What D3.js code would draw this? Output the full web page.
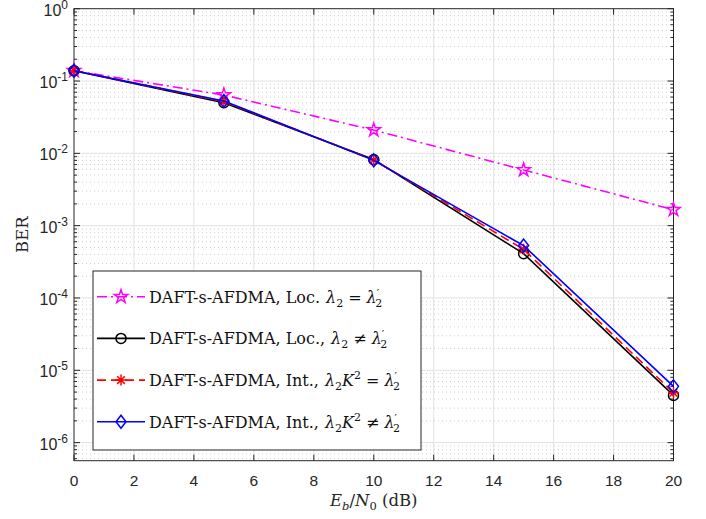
<!DOCTYPE html>
<meta charset="utf-8">
<style>
body { margin: 0; background: #fff; }
</style>
<body>
<script src="https://cdn.jsdelivr.net/npm/d3@7/dist/d3.min.js"></script>
<script>

// x values (Eb/N0 in dB)
var snr = [0, 5, 10, 15, 20];

// BER series
var berLocEq   = [0.139, 0.064, 0.021, 0.0059, 0.00166];
var berLocNeq  = [0.139, 0.050, 0.0082, 0.00041, 0.0000045];
var berIntEq   = [0.139, 0.052, 0.0081, 0.00047, 0.0000049];
var berIntNeq  = [0.139, 0.053, 0.0080, 0.00053, 0.0000060];

var xTicks = [0, 2, 4, 6, 8, 10, 12, 14, 16, 18, 20];
var yExps = [0, -1, -2, -3, -4, -5, -6];

var series = [
  {name: "Loc.", rel: "=", k2: false, data: berLocEq, color: "#ff00ff", dash: "10,4,2,4", marker: "star"},
  {name: "Loc.,", rel: "≠", k2: false, data: berLocNeq, color: "#000000", dash: null, marker: "circle"},
  {name: "Int.,", rel: "=", k2: true, data: berIntEq, color: "#ff0000", dash: "9,5", marker: "asterisk"},
  {name: "Int.,", rel: "≠", k2: true, data: berIntNeq, color: "#0000ff", dash: null, marker: "diamond"}
];

var SANS = "Liberation Sans, Arial, sans-serif";
var SERIF = "DejaVu Serif, serif";

var W = 706, H = 519;
var margin = {top: 8.7, right: 32.5, bottom: 58.3, left: 74};
var width = W - margin.left - margin.right,
    height = H - margin.top - margin.bottom;

var svg = d3.select("body").append("svg")
  .attr("width", W).attr("height", H);

var g = svg.append("g")
  .attr("transform", "translate(" + margin.left + "," + margin.top + ")");

var x = d3.scaleLinear().domain([0, 20]).range([0, width]);
var y = d3.scaleLog().domain([Math.pow(10, -6.25), 1]).range([height, 0]);

// minor grid (dotted)
var minors = [];
for (var e = -7; e < 0; e++) {
  for (var m = 2; m <= 9; m++) {
    var v = m * Math.pow(10, e);
    if (v >= y.domain()[0] && v <= 1) minors.push(v);
  }
}
g.selectAll(".minor").data(minors).enter().append("line")
  .attr("x1", 0).attr("x2", width)
  .attr("y1", d => y(d)).attr("y2", d => y(d))
  .attr("stroke", "#cfcfcf").attr("stroke-width", 1)
  .attr("stroke-dasharray", "1,3");

// major grid
g.selectAll(".gx").data(xTicks.slice(1, -1)).enter().append("line")
  .attr("x1", d => x(d)).attr("x2", d => x(d))
  .attr("y1", 0).attr("y2", height)
  .attr("stroke", "#e2e2e2").attr("stroke-width", 1);
g.selectAll(".gy").data(yExps.slice(1)).enter().append("line")
  .attr("x1", 0).attr("x2", width)
  .attr("y1", d => y(Math.pow(10, d))).attr("y2", d => y(Math.pow(10, d)))
  .attr("stroke", "#e2e2e2").attr("stroke-width", 1);

// axes box
var axCol = "#262626";
g.append("rect").attr("width", width).attr("height", height)
  .attr("fill", "none").attr("stroke", axCol).attr("stroke-width", 1);

// x ticks (inward, top and bottom)
xTicks.forEach(function(t) {
  g.append("line").attr("x1", x(t)).attr("x2", x(t)).attr("y1", height).attr("y2", height - 6)
    .attr("stroke", axCol);
  g.append("line").attr("x1", x(t)).attr("x2", x(t)).attr("y1", 0).attr("y2", 6)
    .attr("stroke", axCol);
  g.append("text").attr("x", x(t)).attr("y", height + 25)
    .attr("text-anchor", "middle").attr("font-family", SANS)
    .attr("font-size", 15.5).attr("fill", axCol)
    .text(t);
});

// y ticks
yExps.forEach(function(e) {
  var yy = y(Math.pow(10, e));
  g.append("line").attr("x1", 0).attr("x2", 6).attr("y1", yy).attr("y2", yy).attr("stroke", axCol);
  g.append("line").attr("x1", width).attr("x2", width - 6).attr("y1", yy).attr("y2", yy).attr("stroke", axCol);
  var t = g.append("text").attr("x", -6).attr("y", yy + 7)
    .attr("text-anchor", "end").attr("font-family", SANS)
    .attr("font-size", 16).attr("fill", axCol);
  t.append("tspan").text("10");
  t.append("tspan").attr("dy", -7).attr("font-size", 12).text(e);
});
minors.forEach(function(v) {
  var yy = y(v);
  g.append("line").attr("x1", 0).attr("x2", 3).attr("y1", yy).attr("y2", yy).attr("stroke", axCol);
  g.append("line").attr("x1", width).attr("x2", width - 3).attr("y1", yy).attr("y2", yy).attr("stroke", axCol);
});

// axis labels
svg.append("text")
  .attr("transform", "translate(28," + (margin.top + height / 2) + ") rotate(-90)")
  .attr("text-anchor", "middle").attr("font-family", SERIF)
  .attr("font-size", 16.5).attr("fill", axCol)
  .text("BER");

var xl = svg.append("text")
  .attr("x", margin.left + width / 2).attr("y", 506)
  .attr("text-anchor", "middle").attr("font-family", SERIF)
  .attr("font-size", 16.5).attr("fill", axCol);
xl.append("tspan").attr("font-style", "italic").text("E");
xl.append("tspan").attr("font-style", "italic").attr("font-size", 11.5).attr("dy", 4).text("b");
xl.append("tspan").attr("dy", -4).text("/");
xl.append("tspan").attr("font-style", "italic").text("N");
xl.append("tspan").attr("font-size", 11.5).attr("dy", 4).text("0");
xl.append("tspan").attr("dy", -4).text(" (dB)");

// markers
function drawMarker(sel, type, color) {
  if (type === "circle") {
    sel.append("circle").attr("r", 5).attr("fill", "none").attr("stroke", color).attr("stroke-width", 1.5);
  } else if (type === "star") {
    sel.append("path").attr("d", d3.symbol(d3.symbolStar, 55)())
      .attr("fill", "none").attr("stroke", color).attr("stroke-width", 1.5);
  } else if (type === "diamond") {
    sel.append("path").attr("d", "M0,-6.5L5,0L0,6.5L-5,0Z")
      .attr("fill", "none").attr("stroke", color).attr("stroke-width", 1.5);
  } else if (type === "asterisk") {
    var r = 5.5;
    sel.append("path")
      .attr("d", "M0,-" + r + "V" + r + "M-" + r + ",0H" + r +
        "M-3.8,-3.8L3.8,3.8M-3.8,3.8L3.8,-3.8")
      .attr("fill", "none").attr("stroke", color).attr("stroke-width", 1.5);
  }
}

var line = d3.line().x(d => x(d[0])).y(d => y(d[1]));

series.forEach(function(s) {
  var pts = snr.map((v, i) => [v, s.data[i]]);
  g.append("path").datum(pts).attr("d", line)
    .attr("fill", "none").attr("stroke", s.color).attr("stroke-width", 1.6)
    .attr("stroke-dasharray", s.dash);
  pts.forEach(function(p) {
    var mk = g.append("g").attr("transform", "translate(" + x(p[0]) + "," + y(p[1]) + ")");
    drawMarker(mk, s.marker, s.color);
  });
});

// legend
var lg = svg.append("g");
lg.append("rect").attr("x", 93).attr("y", 271).attr("width", 328).attr("height", 179)
  .attr("fill", "#fff").attr("stroke", axCol).attr("stroke-width", 1);

series.forEach(function(s, i) {
  var ly = 296.7 + i * 41.7;
  lg.append("line").attr("x1", 97).attr("x2", 145).attr("y1", ly).attr("y2", ly)
    .attr("stroke", s.color).attr("stroke-width", 1.6).attr("stroke-dasharray", s.dash);
  var mk = lg.append("g").attr("transform", "translate(121," + ly + ")");
  drawMarker(mk, s.marker, s.color);

  var t = lg.append("text")
    .attr("x", 149).attr("y", ly + 6).attr("font-family", SERIF)
    .attr("font-size", 16).attr("fill", "#111");
  t.append("tspan").text("DAFT-s-AFDMA, " + s.name);
  t.append("tspan").attr("font-style", "italic").attr("dx", 6).text("λ");
  t.append("tspan").attr("font-size", 11).attr("dy", 4).text("2");
  if (s.k2) {
    t.append("tspan").attr("dy", -4).attr("font-style", "italic").text("K");
    t.append("tspan").attr("font-size", 11).attr("dy", -7).text("2");
    t.append("tspan").attr("dy", 7).attr("dx", 5).text(s.rel);
  } else {
    t.append("tspan").attr("dy", -4).attr("dx", 5).text(s.rel);
  }
  t.append("tspan").attr("font-style", "italic").attr("dx", 5).text("λ");
  t.append("tspan").attr("font-size", 11).attr("dy", -6).text("′");
  t.append("tspan").attr("font-size", 11).attr("dy", 10).attr("dx", -4).text("2");
});

</script>
</body>
